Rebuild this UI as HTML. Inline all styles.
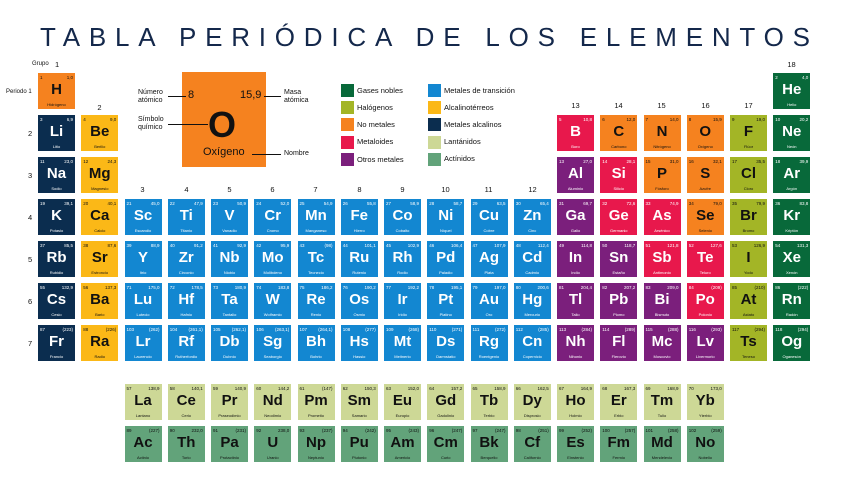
<!DOCTYPE html>
<html><head><meta charset="utf-8"><style>
*{margin:0;padding:0;box-sizing:border-box}
body{width:848px;height:480px;background:#fff;position:relative;overflow:hidden;font-family:"Liberation Sans",sans-serif;color:#111}
.t{position:absolute;left:0;top:0}
.g{position:absolute;left:38px;top:73px;display:grid;grid-template-columns:repeat(18,37px);grid-auto-rows:36px;column-gap:6.25px;row-gap:6px}
.l{position:absolute;left:124.5px;top:384px;display:grid;grid-template-columns:repeat(14,37px);grid-auto-rows:36px;column-gap:6.25px;row-gap:6px}
.c{position:relative;color:#fff}
.c i{position:absolute;left:2px;top:2px;font-style:normal;font-size:4.5px}
.c b{position:absolute;right:2px;top:2px;font-weight:normal;font-size:4.5px}
.c s{position:absolute;left:0;right:0;top:9px;text-align:center;text-decoration:none;font-weight:bold;font-size:15px;line-height:16px}
.c u{position:absolute;left:0;right:0;bottom:2px;text-align:center;text-decoration:none;font-size:4px}
.a{background:#0b2d4f}.e{background:#fbb817;color:#111}.x{background:#1387d1}.n{background:#f5821f;color:#111}
.ng{background:#08693a}.h{background:#a3b526;color:#111}.m{background:#e8184c}.o{background:#7b1f7c}
.la{background:#cdd896;color:#111}.ac{background:#62a37a;color:#111}
.lb{position:absolute;font-size:7px;color:#111;white-space:nowrap}
.gl{position:absolute;font-size:7.5px;color:#111;text-align:center;width:37px}
.sq{position:absolute;width:13px;height:13px}
.lt{position:absolute;font-size:7.5px;color:#111;white-space:nowrap}
.ln{position:absolute;height:1px;background:#111}
</style></head><body>
<svg class="t" width="848" height="60"><text x="40" y="46" font-family="Liberation Sans, sans-serif" font-size="26" fill="#14284b" textLength="770" lengthAdjust="spacing">TABLA PERIÓDICA DE LOS ELEMENTOS</text></svg>

<div class="lb" style="left:32px;top:61px;font-size:6px">Grupo</div><div class="lb" style="left:55px;top:60px;font-size:7.5px">1</div>
<div class="lb" style="left:6px;top:89px;font-size:6px">Periodo 1</div>
<div class="gl" style="left:81px;top:103px">2</div>
<div class="gl" style="left:773px;top:60px">18</div>
<div class="gl" style="left:557px;top:101px">13</div><div class="gl" style="left:600px;top:101px">14</div><div class="gl" style="left:643px;top:101px">15</div><div class="gl" style="left:687px;top:101px">16</div><div class="gl" style="left:730px;top:101px">17</div>
<div class="gl" style="left:124px;top:185px">3</div><div class="gl" style="left:168px;top:185px">4</div><div class="gl" style="left:211px;top:185px">5</div><div class="gl" style="left:254px;top:185px">6</div><div class="gl" style="left:297px;top:185px">7</div><div class="gl" style="left:341px;top:185px">8</div><div class="gl" style="left:384px;top:185px">9</div><div class="gl" style="left:427px;top:185px">10</div><div class="gl" style="left:470px;top:185px">11</div><div class="gl" style="left:514px;top:185px">12</div>
<div class="lb" style="left:28px;top:129px;font-size:7.5px">2</div><div class="lb" style="left:28px;top:171px;font-size:7.5px">3</div><div class="lb" style="left:28px;top:213px;font-size:7.5px">4</div><div class="lb" style="left:28px;top:255px;font-size:7.5px">5</div><div class="lb" style="left:28px;top:297px;font-size:7.5px">6</div><div class="lb" style="left:28px;top:339px;font-size:7.5px">7</div>

<!-- key -->
<div style="position:absolute;left:182px;top:72px;width:84px;height:95px;background:#f5821f"></div>
<div class="lb" style="left:188px;top:89px;font-size:11px">8</div>
<div class="lb" style="left:240px;top:89px;font-size:11px">15,9</div>
<div class="lb" style="left:208px;top:104px;font-size:36px;font-weight:bold">O</div>
<div class="lb" style="left:203px;top:146px;font-size:11px">Oxígeno</div>
<div class="lb" style="left:138px;top:89px;line-height:8px">Número<br>atómico</div>
<div class="ln" style="left:168px;top:96px;width:18px"></div>
<div class="lb" style="left:138px;top:116px;line-height:8px">Símbolo<br>químico</div>
<div class="ln" style="left:168px;top:124px;width:40px"></div>
<div class="lb" style="left:284px;top:89px;line-height:8px">Masa<br>atómica</div>
<div class="ln" style="left:264px;top:96px;width:17px"></div>
<div class="lb" style="left:284px;top:150px">Nombre</div>
<div class="ln" style="left:252px;top:154px;width:29px"></div>

<!-- legend -->
<div class="sq ng" style="left:341px;top:84px"></div><div class="lt" style="left:357px;top:86px">Gases nobles</div>
<div class="sq h" style="left:341px;top:101px"></div><div class="lt" style="left:357px;top:103px">Halógenos</div>
<div class="sq n" style="left:341px;top:118px"></div><div class="lt" style="left:357px;top:120px">No metales</div>
<div class="sq m" style="left:341px;top:136px"></div><div class="lt" style="left:357px;top:137px">Metaloides</div>
<div class="sq o" style="left:341px;top:153px"></div><div class="lt" style="left:357px;top:155px">Otros metales</div>
<div class="sq x" style="left:428px;top:84px"></div><div class="lt" style="left:444px;top:86px">Metales de transición</div>
<div class="sq e" style="left:428px;top:101px"></div><div class="lt" style="left:444px;top:103px">Alcalinotérreos</div>
<div class="sq a" style="left:428px;top:118px"></div><div class="lt" style="left:444px;top:120px">Metales alcalinos</div>
<div class="sq la" style="left:428px;top:136px"></div><div class="lt" style="left:444px;top:137px">Lantánidos</div>
<div class="sq ac" style="left:428px;top:153px"></div><div class="lt" style="left:444px;top:154px">Actínidos</div>

<div class="g">
<div class="c n"><i>1</i><b>1,0</b><s>H</s><u>Hidrógeno</u></div>
<div class="c ng" style="grid-column:18"><i>2</i><b>4,0</b><s>He</s><u>Helio</u></div>
<div class="c a"><i>3</i><b>6,9</b><s>Li</s><u>Litio</u></div>
<div class="c e"><i>4</i><b>9,0</b><s>Be</s><u>Berilio</u></div>
<div class="c m" style="grid-column:13"><i>5</i><b>10,8</b><s>B</s><u>Boro</u></div>
<div class="c n"><i>6</i><b>12,0</b><s>C</s><u>Carbono</u></div>
<div class="c n"><i>7</i><b>14,0</b><s>N</s><u>Nitrógeno</u></div>
<div class="c n"><i>8</i><b>15,9</b><s>O</s><u>Oxígeno</u></div>
<div class="c h"><i>9</i><b>19,0</b><s>F</s><u>Flúor</u></div>
<div class="c ng"><i>10</i><b>20,2</b><s>Ne</s><u>Neón</u></div>
<div class="c a"><i>11</i><b>23,0</b><s>Na</s><u>Sodio</u></div>
<div class="c e"><i>12</i><b>24,3</b><s>Mg</s><u>Magnesio</u></div>
<div class="c o" style="grid-column:13"><i>13</i><b>27,0</b><s>Al</s><u>Aluminio</u></div>
<div class="c m"><i>14</i><b>28,1</b><s>Si</s><u>Silicio</u></div>
<div class="c n"><i>15</i><b>31,0</b><s>P</s><u>Fósforo</u></div>
<div class="c n"><i>16</i><b>32,1</b><s>S</s><u>Azufre</u></div>
<div class="c h"><i>17</i><b>35,5</b><s>Cl</s><u>Cloro</u></div>
<div class="c ng"><i>18</i><b>39,9</b><s>Ar</s><u>Argón</u></div>
<div class="c a"><i>19</i><b>39,1</b><s>K</s><u>Potasio</u></div>
<div class="c e"><i>20</i><b>40,1</b><s>Ca</s><u>Calcio</u></div>
<div class="c x"><i>21</i><b>45,0</b><s>Sc</s><u>Escandio</u></div>
<div class="c x"><i>22</i><b>47,9</b><s>Ti</s><u>Titanio</u></div>
<div class="c x"><i>23</i><b>50,9</b><s>V</s><u>Vanadio</u></div>
<div class="c x"><i>24</i><b>52,0</b><s>Cr</s><u>Cromo</u></div>
<div class="c x"><i>25</i><b>54,9</b><s>Mn</s><u>Manganeso</u></div>
<div class="c x"><i>26</i><b>55,8</b><s>Fe</s><u>Hierro</u></div>
<div class="c x"><i>27</i><b>58,9</b><s>Co</s><u>Cobalto</u></div>
<div class="c x"><i>28</i><b>58,7</b><s>Ni</s><u>Níquel</u></div>
<div class="c x"><i>29</i><b>63,5</b><s>Cu</s><u>Cobre</u></div>
<div class="c x"><i>30</i><b>65,4</b><s>Zn</s><u>Cinc</u></div>
<div class="c o"><i>31</i><b>69,7</b><s>Ga</s><u>Galio</u></div>
<div class="c m"><i>32</i><b>72,6</b><s>Ge</s><u>Germanio</u></div>
<div class="c m"><i>33</i><b>74,9</b><s>As</s><u>Arsénico</u></div>
<div class="c n"><i>34</i><b>79,0</b><s>Se</s><u>Selenio</u></div>
<div class="c h"><i>35</i><b>79,9</b><s>Br</s><u>Bromo</u></div>
<div class="c ng"><i>36</i><b>83,8</b><s>Kr</s><u>Kriptón</u></div>
<div class="c a"><i>37</i><b>85,5</b><s>Rb</s><u>Rubidio</u></div>
<div class="c e"><i>38</i><b>87,6</b><s>Sr</s><u>Estroncio</u></div>
<div class="c x"><i>39</i><b>88,9</b><s>Y</s><u>Itrio</u></div>
<div class="c x"><i>40</i><b>91,2</b><s>Zr</s><u>Circonio</u></div>
<div class="c x"><i>41</i><b>92,9</b><s>Nb</s><u>Niobio</u></div>
<div class="c x"><i>42</i><b>95,9</b><s>Mo</s><u>Molibdeno</u></div>
<div class="c x"><i>43</i><b>(98)</b><s>Tc</s><u>Tecnecio</u></div>
<div class="c x"><i>44</i><b>101,1</b><s>Ru</s><u>Rutenio</u></div>
<div class="c x"><i>45</i><b>102,9</b><s>Rh</s><u>Rodio</u></div>
<div class="c x"><i>46</i><b>106,4</b><s>Pd</s><u>Paladio</u></div>
<div class="c x"><i>47</i><b>107,9</b><s>Ag</s><u>Plata</u></div>
<div class="c x"><i>48</i><b>112,4</b><s>Cd</s><u>Cadmio</u></div>
<div class="c o"><i>49</i><b>114,8</b><s>In</s><u>Indio</u></div>
<div class="c o"><i>50</i><b>118,7</b><s>Sn</s><u>Estaño</u></div>
<div class="c m"><i>51</i><b>121,8</b><s>Sb</s><u>Antimonio</u></div>
<div class="c m"><i>52</i><b>127,6</b><s>Te</s><u>Teluro</u></div>
<div class="c h"><i>53</i><b>126,9</b><s>I</s><u>Yodo</u></div>
<div class="c ng"><i>54</i><b>131,3</b><s>Xe</s><u>Xenón</u></div>
<div class="c a"><i>55</i><b>132,9</b><s>Cs</s><u>Cesio</u></div>
<div class="c e"><i>56</i><b>137,3</b><s>Ba</s><u>Bario</u></div>
<div class="c x"><i>71</i><b>175,0</b><s>Lu</s><u>Lutecio</u></div>
<div class="c x"><i>72</i><b>178,5</b><s>Hf</s><u>Hafnio</u></div>
<div class="c x"><i>73</i><b>180,9</b><s>Ta</s><u>Tantalio</u></div>
<div class="c x"><i>74</i><b>183,8</b><s>W</s><u>Wolframio</u></div>
<div class="c x"><i>75</i><b>186,2</b><s>Re</s><u>Renio</u></div>
<div class="c x"><i>76</i><b>190,2</b><s>Os</s><u>Osmio</u></div>
<div class="c x"><i>77</i><b>192,2</b><s>Ir</s><u>Iridio</u></div>
<div class="c x"><i>78</i><b>195,1</b><s>Pt</s><u>Platino</u></div>
<div class="c x"><i>79</i><b>197,0</b><s>Au</s><u>Oro</u></div>
<div class="c x"><i>80</i><b>200,6</b><s>Hg</s><u>Mercurio</u></div>
<div class="c o"><i>81</i><b>204,4</b><s>Tl</s><u>Talio</u></div>
<div class="c o"><i>82</i><b>207,2</b><s>Pb</s><u>Plomo</u></div>
<div class="c o"><i>83</i><b>209,0</b><s>Bi</s><u>Bismuto</u></div>
<div class="c m"><i>84</i><b>(209)</b><s>Po</s><u>Polonio</u></div>
<div class="c h"><i>85</i><b>(210)</b><s>At</s><u>Astato</u></div>
<div class="c ng"><i>86</i><b>(222)</b><s>Rn</s><u>Radón</u></div>
<div class="c a"><i>87</i><b>(223)</b><s>Fr</s><u>Francio</u></div>
<div class="c e"><i>88</i><b>(226)</b><s>Ra</s><u>Radio</u></div>
<div class="c x"><i>103</i><b>(262)</b><s>Lr</s><u>Laurencio</u></div>
<div class="c x"><i>104</i><b>(261,1)</b><s>Rf</s><u>Rutherfordio</u></div>
<div class="c x"><i>105</i><b>(262,1)</b><s>Db</s><u>Dubnio</u></div>
<div class="c x"><i>106</i><b>(263,1)</b><s>Sg</s><u>Seaborgio</u></div>
<div class="c x"><i>107</i><b>(264,1)</b><s>Bh</s><u>Bohrio</u></div>
<div class="c x"><i>108</i><b>(277)</b><s>Hs</s><u>Hassio</u></div>
<div class="c x"><i>109</i><b>(268)</b><s>Mt</s><u>Meitnerio</u></div>
<div class="c x"><i>110</i><b>(271)</b><s>Ds</s><u>Darmstatio</u></div>
<div class="c x"><i>111</i><b>(272)</b><s>Rg</s><u>Roentgenio</u></div>
<div class="c x"><i>112</i><b>(285)</b><s>Cn</s><u>Copernicio</u></div>
<div class="c o"><i>113</i><b>(284)</b><s>Nh</s><u>Nihonio</u></div>
<div class="c o"><i>114</i><b>(289)</b><s>Fl</s><u>Flerovio</u></div>
<div class="c o"><i>115</i><b>(288)</b><s>Mc</s><u>Moscovio</u></div>
<div class="c o"><i>116</i><b>(293)</b><s>Lv</s><u>Livermorio</u></div>
<div class="c h"><i>117</i><b>(294)</b><s>Ts</s><u>Teneso</u></div>
<div class="c ng"><i>118</i><b>(294)</b><s>Og</s><u>Oganesón</u></div>
</div>

<div class="l">
<div class="c la"><i>57</i><b>138,9</b><s>La</s><u>Lantano</u></div>
<div class="c la"><i>58</i><b>140,1</b><s>Ce</s><u>Cerio</u></div>
<div class="c la"><i>59</i><b>140,9</b><s>Pr</s><u>Praseodimio</u></div>
<div class="c la"><i>60</i><b>144,2</b><s>Nd</s><u>Neodimio</u></div>
<div class="c la"><i>61</i><b>(147)</b><s>Pm</s><u>Prometio</u></div>
<div class="c la"><i>62</i><b>150,3</b><s>Sm</s><u>Samario</u></div>
<div class="c la"><i>63</i><b>152,0</b><s>Eu</s><u>Europio</u></div>
<div class="c la"><i>64</i><b>157,2</b><s>Gd</s><u>Gadolinio</u></div>
<div class="c la"><i>65</i><b>158,9</b><s>Tb</s><u>Terbio</u></div>
<div class="c la"><i>66</i><b>162,5</b><s>Dy</s><u>Disprosio</u></div>
<div class="c la"><i>67</i><b>164,9</b><s>Ho</s><u>Holmio</u></div>
<div class="c la"><i>68</i><b>167,3</b><s>Er</s><u>Erbio</u></div>
<div class="c la"><i>69</i><b>168,9</b><s>Tm</s><u>Tulio</u></div>
<div class="c la"><i>70</i><b>173,0</b><s>Yb</s><u>Yterbio</u></div>
<div class="c ac"><i>89</i><b>(227)</b><s>Ac</s><u>Actinio</u></div>
<div class="c ac"><i>90</i><b>232,0</b><s>Th</s><u>Torio</u></div>
<div class="c ac"><i>91</i><b>(231)</b><s>Pa</s><u>Protactinio</u></div>
<div class="c ac"><i>92</i><b>238,0</b><s>U</s><u>Uranio</u></div>
<div class="c ac"><i>93</i><b>(237)</b><s>Np</s><u>Neptunio</u></div>
<div class="c ac"><i>94</i><b>(242)</b><s>Pu</s><u>Plutonio</u></div>
<div class="c ac"><i>95</i><b>(243)</b><s>Am</s><u>Americio</u></div>
<div class="c ac"><i>96</i><b>(247)</b><s>Cm</s><u>Curio</u></div>
<div class="c ac"><i>97</i><b>(247)</b><s>Bk</s><u>Berquelio</u></div>
<div class="c ac"><i>98</i><b>(251)</b><s>Cf</s><u>Californio</u></div>
<div class="c ac"><i>99</i><b>(252)</b><s>Es</s><u>Einstenio</u></div>
<div class="c ac"><i>100</i><b>(257)</b><s>Fm</s><u>Fermio</u></div>
<div class="c ac"><i>101</i><b>(258)</b><s>Md</s><u>Mendelevio</u></div>
<div class="c ac"><i>102</i><b>(259)</b><s>No</s><u>Nobelio</u></div>
</div>
</body></html>
